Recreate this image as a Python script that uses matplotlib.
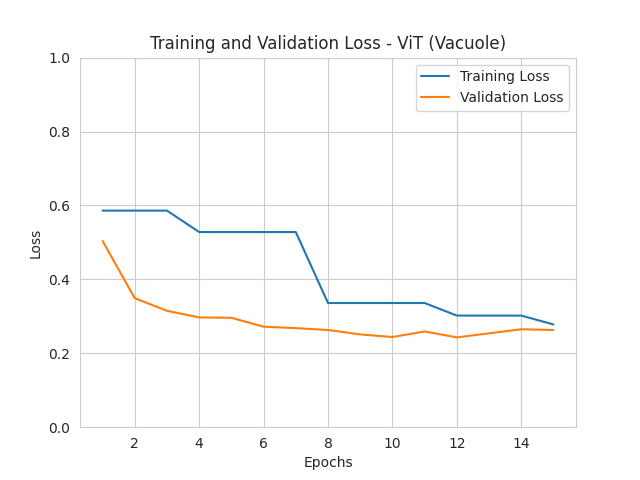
import matplotlib
matplotlib.use("Agg")
import matplotlib.pyplot as plt
import seaborn as sns

epochs = list(range(1, 16))
train_loss = [0.586, 0.586, 0.586, 0.528, 0.528, 0.528, 0.528, 0.336, 0.336, 0.336, 0.336, 0.302, 0.302, 0.302, 0.278]
val_loss = [0.504, 0.349, 0.315, 0.297, 0.296, 0.272, 0.268, 0.263, 0.251, 0.244, 0.259, 0.243, 0.254, 0.265, 0.263]

sns.set_style("whitegrid")
fig, ax = plt.subplots(figsize=(6.4, 4.8), dpi=100)
ax.plot(epochs, train_loss, label="Training Loss")
ax.plot(epochs, val_loss, label="Validation Loss")
ax.set_ylim(0, 1.0)
ax.set_xlabel("Epochs")
ax.set_ylabel("Loss")
ax.set_title("Training and Validation Loss - ViT (Vacuole)")
ax.legend()
fig.savefig("out.png")
